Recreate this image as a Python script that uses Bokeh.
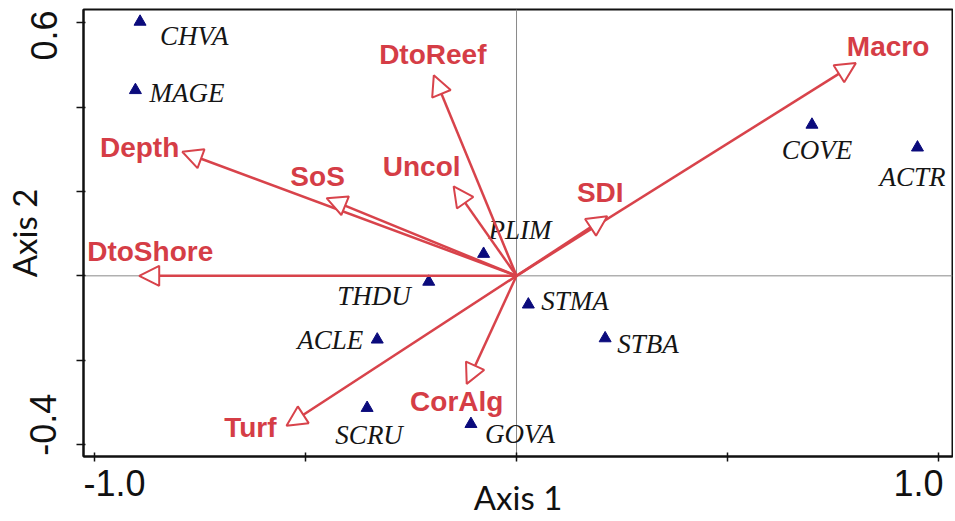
from bokeh.plotting import figure
from bokeh.models import ColumnDataSource, Range1d, FixedTicker, Span, Arrow, NormalHead
from bokeh.core.properties import value
from bokeh.embed import file_html
from bokeh.resources import INLINE

# ---------------- data ----------------
site_names = ["CHVA", "MAGE", "COVE", "ACTR", "PLIM", "THDU", "STMA", "ACLE", "STBA", "SCRU", "GOVA"]
site_axis1 = [-0.892, -0.903, 0.700, 0.950, -0.078, -0.208, 0.028, -0.330, 0.210, -0.354, -0.108]
site_axis2 = [0.602, 0.440, 0.358, 0.304, 0.052, -0.014, -0.068, -0.151, -0.148, -0.313, -0.351]

var_names = ["Macro", "DtoReef", "Depth", "SoS", "Uncol", "SDI", "DtoShore", "Turf", "CorAlg"]
var_axis1 = [0.804, -0.196, -0.792, -0.450, -0.149, 0.215, -0.894, -0.545, -0.118]
var_axis2 = [0.504, 0.475, 0.294, 0.184, 0.212, 0.141, 0.000, -0.355, -0.256]

x_ticks = [-1.0, -0.5, 0.0, 0.5, 1.0]
x_tick_labels = ["-1.0", "", "", "", "1.0"]
y_ticks = [-0.4, -0.2, 0.0, 0.2, 0.4, 0.6]
y_tick_labels = ["-0.4", "", "", "", "", "0.6"]

# ---------------- layout / style (label placement in pixels) ----------------
site_align = ["left", "left", "center", "center", "left", "right", "left", "right", "left", "center", "left"]
site_dx = [20, 14, 5, -5, 5, -18, 13, -14, 12, 2, 14]
site_dy = [14, 3, 25, 29, -24, 14, -4, 0, 6, 27, 10]

var_align = ["left", "center", "right", "center", "center", "center", "left", "right", "center"]
var_dx = [-9, -1, -3, -9, -32, -7, -52, -10, -10]
var_dy = [-17, -21, -4, -22, -20, -24, -24, 2, 18]

# non-breaking padding that nudges the end tick labels inside, as in the original
NB = "\u00a0"
x_pad = [(4, 0), (0, 0), (0, 0), (0, 0), (0, 1)]
y_pad = [(4, 0), (0, 0), (0, 0), (0, 0), (0, 0), (0, 1)]

RED = "#d8434b"
LABEL_RED = "#d53d46"
NAVY = "#0b0b7c"

site_src = ColumnDataSource(dict(x=site_axis1, y=site_axis2, name=site_names,
                                 align=site_align, dx=site_dx, dy=site_dy))
var_src = ColumnDataSource(dict(x=var_axis1, y=var_axis2, name=var_names,
                                align=var_align, dx=var_dx, dy=var_dy))

p = figure(width=953, height=519,
           x_range=Range1d(-1.026, 1.033), y_range=Range1d(-0.428, 0.631),
           output_backend="svg", toolbar_location=None,
           min_border_left=81, min_border_right=1, min_border_top=9, min_border_bottom=61)
p.xgrid.visible = False
p.ygrid.visible = False
p.background_fill_color = "white"
p.border_fill_color = "white"
p.outline_line_color = "#111111"
p.outline_line_width = 2
p.outline_line_alpha = 1.0

# zero lines
p.add_layout(Span(location=0, dimension="width", line_color="#8a8a8a", line_width=1, level="underlay"))
p.add_layout(Span(location=0, dimension="height", line_color="#8a8a8a", line_width=1, level="underlay"))

# ---------------- axes ----------------
xa = p.xaxis[0]
xa.ticker = FixedTicker(ticks=x_ticks, minor_ticks=[])
xa.major_label_overrides = {t: NB * a + lab + NB * b if lab else ""
                            for t, lab, (a, b) in zip(x_ticks, x_tick_labels, x_pad)}
xa.major_label_text_font = "Liberation Sans"
xa.major_label_text_font_size = "36px"
xa.major_label_text_color = "#111111"
xa.major_label_standoff = 1
xa.major_tick_in = 4
xa.major_tick_out = 5
xa.major_tick_line_width = 1.5
xa.major_tick_line_color = "#111111"
xa.minor_tick_line_color = None
xa.axis_line_width = 2
xa.axis_line_color = "#111111"
xa.axis_label = "Axis 1"
xa.axis_label_text_font = "Lato"
xa.axis_label_text_font_size = "33px"
xa.axis_label_text_font_style = "normal"
xa.axis_label_text_color = "#111111"
xa.axis_label_standoff = -30

ya = p.yaxis[0]
ya.ticker = FixedTicker(ticks=y_ticks, minor_ticks=[])
ya.major_label_overrides = {t: NB * a + lab + NB * b if lab else ""
                            for t, lab, (a, b) in zip(y_ticks, y_tick_labels, y_pad)}
ya.major_label_orientation = "vertical"
ya.major_label_text_font = "Liberation Sans"
ya.major_label_text_font_size = "36px"
ya.major_label_text_color = "#111111"
ya.major_label_standoff = 12
ya.major_tick_in = 2
ya.major_tick_out = 7
ya.major_tick_line_width = 1.5
ya.major_tick_line_color = "#111111"
ya.minor_tick_line_color = None
ya.axis_line_width = 2
ya.axis_line_color = "#111111"
ya.axis_label = "Axis 2"
ya.axis_label_text_font = "Lato"
ya.axis_label_text_font_size = "33px"
ya.axis_label_text_font_style = "normal"
ya.axis_label_text_color = "#111111"
ya.axis_label_standoff = -23

# ---------------- sites ----------------
p.scatter(x="x", y="y", source=site_src, marker="triangle", size=12,
          fill_color=NAVY, line_color=NAVY)
p.text(x="x", y="y", text="name", source=site_src, x_offset="dx", y_offset="dy",
       text_align="align", text_baseline="middle",
       text_font=value("Liberation Serif"), text_font_style="italic",
       text_font_size="27px", text_color="#151515")

# ---------------- environmental vectors ----------------
p.text(x="x", y="y", text="name", source=var_src, x_offset="dx", y_offset="dy",
       text_align="align", text_baseline="middle",
       text_font=value("Liberation Sans"), text_font_style="bold",
       text_font_size="28px", text_color=LABEL_RED)
p.add_layout(Arrow(source=var_src, x_start=0, y_start=0, x_end="x", y_end="y",
                   line_color=RED, line_width=2.5,
                   end=NormalHead(size=20, fill_color="white", line_color=RED, line_width=2)))

open("out.html", "w").write(file_html(p, INLINE))
